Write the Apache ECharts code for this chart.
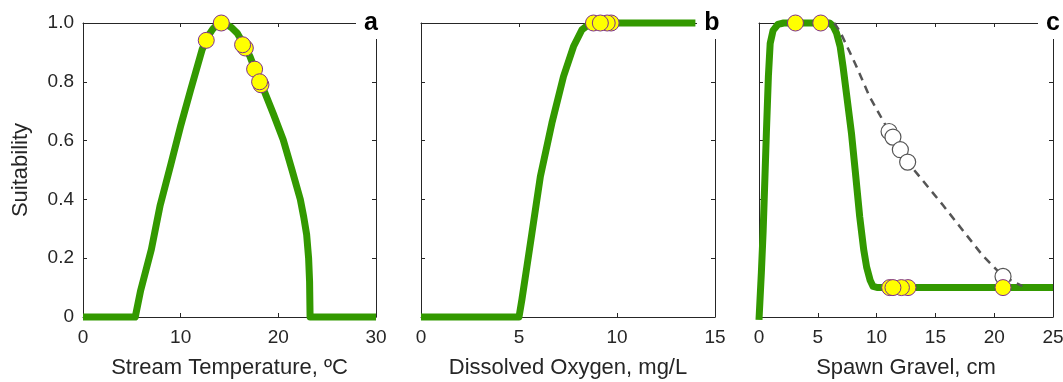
<!DOCTYPE html>
<html>
<head>
<meta charset="utf-8">
<script src="https://cdn.jsdelivr.net/npm/echarts@6/dist/echarts.min.js"></script>
<style>
    html, body { margin: 0; padding: 0; background: #fff; }
    #box1 { width: 1063px; height: 382px; }
</style>
</head>
<body>
<div id="box1"></div>
<script>
// curve points [x, suitability]
var tempCurve = [[0, 0], [5.35, 0], [5.9, 0.09], [7.0, 0.23], [7.9, 0.38], [9.0, 0.52], [10.0, 0.65],
    [11.0, 0.77], [12.2, 0.91], [12.8, 0.955], [13.3, 0.98], [13.7, 0.993], [14.2, 1.0], [14.7, 0.995],
    [15.2, 0.985], [15.8, 0.965], [16.5, 0.925], [17.1, 0.886], [17.8, 0.825], [18.5, 0.773], [19.5, 0.69],
    [20.5, 0.603], [21.4, 0.5], [22.25, 0.4], [22.6, 0.34], [22.9, 0.28], [23.1, 0.2], [23.2, 0.12],
    [23.25, 0], [30, 0]];
var tempPoints = [[12.62, 0.941], [14.16, 1.0], [16.62, 0.915], [16.34, 0.926], [18.22, 0.79], [17.57, 0.843], [18.08, 0.80]];

var oxyCurve = [[0, 0], [5.0, 0], [5.15, 0.06], [5.4, 0.17], [5.66, 0.286], [6.09, 0.478], [6.68, 0.66],
    [7.27, 0.818], [7.78, 0.92], [8.21, 0.977], [8.6, 0.997], [9.0, 1.0], [14, 1.0]];
var oxyPoints = [[8.8, 1.0], [9.7, 1.0], [9.5, 1.0], [9.15, 1.0]];

var gravelCurve = [[0, -0.01], [0.2, 0.15], [0.35, 0.29], [0.5, 0.47], [0.63, 0.63], [0.8, 0.82], [0.95, 0.93],
    [1.2, 0.975], [1.6, 0.995], [2.1, 1.0], [6.0, 1.0], [6.3, 0.99], [6.6, 0.965], [6.9, 0.92], [7.15, 0.85],
    [7.5, 0.74], [7.86, 0.626], [8.2, 0.49], [8.56, 0.342], [8.9, 0.23], [9.15, 0.17], [9.45, 0.125],
    [9.7, 0.104], [10.1, 0.1], [25, 0.1]];
var gravelOldCurve = [[6.4, 1.0], [6.9, 0.97], [8.2, 0.86], [9.4, 0.75], [11.06, 0.631], [11.39, 0.612],
    [12.02, 0.569], [12.64, 0.527], [15.65, 0.38], [19.0, 0.21], [20.75, 0.138], [22.4, 0.105]];
var gravelOldPoints = [[11.06, 0.631], [11.39, 0.612], [12.02, 0.569], [12.64, 0.527], [20.75, 0.138]];
var gravelPoints = [[3.1, 1.0], [5.25, 1.0], [12.67, 0.1], [12.11, 0.1], [11.11, 0.1], [11.39, 0.1], [20.75, 0.1]];

var panelNames = ['Stream Temperature, \u00BAC', 'Dissolved Oxygen, mg/L', 'Spawn Gravel, cm'];
var panelLetters = ['a', 'b', 'c'];
var xMax = [30, 15, 25];
var xStep = [10, 5, 5];

var FONT = '"Liberation Sans", Arial, Helvetica, sans-serif';
var AX = '#262626';
var GREEN = '#339900';
var lefts = [83, 421, 759];
var widths = [293, 294, 294];
var letterShift = [-5, -3, 0];
var TOP = 23, H = 294;

var chart = echarts.init(document.getElementById('box1'));

var grids = [], xAxes = [], yAxes = [], series = [], graphics = [];
for (var i = 0; i < 3; i++) {
    grids.push({
        left: lefts[i], top: TOP, width: widths[i], height: H,
        containLabel: false, outerBoundsMode: 'none'
    });
    var line = { show: true, onZero: false, lineStyle: { color: AX, width: 1 } };
    var tick = { show: true, inside: true, length: 4, lineStyle: { color: AX } };
    xAxes.push({
        gridIndex: i, type: 'value', position: 'bottom', min: 0, max: xMax[i], interval: xStep[i],
        axisLine: line, axisTick: tick, splitLine: { show: false },
        axisLabel: { color: AX, fontSize: 19, fontFamily: FONT, margin: 11 },
        name: panelNames[i], nameLocation: 'middle', nameGap: 40,
        nameTextStyle: { color: AX, fontSize: 22, fontFamily: FONT }
    });
    xAxes.push({
        gridIndex: i, type: 'value', position: 'top', min: 0, max: xMax[i], interval: xStep[i],
        axisLine: line, axisTick: tick, splitLine: { show: false }, axisLabel: { show: false }
    });
    yAxes.push({
        gridIndex: i, type: 'value', position: 'left', min: 0, max: 1, interval: 0.2,
        axisLine: line, axisTick: tick, splitLine: { show: false },
        axisLabel: {
            show: i === 0, color: AX, fontSize: 19, fontFamily: FONT, margin: 9,
            formatter: function (v) { return v === 0 ? '0' : v.toFixed(1); }
        },
        name: i === 0 ? 'Suitability' : '', nameLocation: 'middle', nameGap: 51, nameRotate: 90,
        nameTextStyle: { color: AX, fontSize: 22, fontFamily: FONT }
    });
    yAxes.push({
        gridIndex: i, type: 'value', position: 'right', min: 0, max: 1, interval: 0.2,
        axisLine: line, axisTick: tick, splitLine: { show: false }, axisLabel: { show: false }
    });

    // white patch behind the panel letter, covering the top-right corner
    var cx = lefts[i] + widths[i] + letterShift[i];
    graphics.push({
        type: 'rect', z: 100, silent: true,
        shape: { x: cx - 15, y: 4, width: 30, height: 35 },
        style: { fill: '#fff' }
    });
    graphics.push({
        type: 'text', z: 101, silent: true,
        x: cx, y: 23,
        style: {
            text: panelLetters[i], fill: '#000', font: 'bold 25px ' + FONT,
            textAlign: 'center', textVerticalAlign: 'middle'
        }
    });
}

function curve(idx, data) {
    return {
        type: 'line', xAxisIndex: idx * 2, yAxisIndex: idx * 2, data: data,
        showSymbol: false, clip: false, silent: true, z: 2,
        lineStyle: { color: GREEN, width: 7, cap: 'butt', join: 'round' }
    };
}
function dots(idx, data) {
    return {
        type: 'scatter', xAxisIndex: idx * 2, yAxisIndex: idx * 2, data: data,
        symbolSize: 16, clip: false, silent: true, z: 5,
        itemStyle: { color: '#ffff00', borderColor: '#7e2f8e', borderWidth: 1, opacity: 1 }
    };
}

series.push(curve(0, tempCurve));
series.push(dots(0, tempPoints));
series.push(curve(1, oxyCurve));
series.push(dots(1, oxyPoints));
series.push(curve(2, gravelCurve));
series.push({
    type: 'line', xAxisIndex: 4, yAxisIndex: 4, data: gravelOldCurve,
    showSymbol: false, clip: false, silent: true, z: 3,
    lineStyle: { color: '#555555', width: 2.5, type: [8, 6] }
});
series.push({
    type: 'scatter', xAxisIndex: 4, yAxisIndex: 4, data: gravelOldPoints,
    symbolSize: 16, clip: false, silent: true, z: 4,
    itemStyle: { color: '#fff', borderColor: '#555555', borderWidth: 1.2, opacity: 1 }
});
series.push(dots(2, gravelPoints));

var option = {
    animation: false,
    backgroundColor: '#fff',
    grid: grids,
    xAxis: xAxes,
    yAxis: yAxes,
    series: series,
    graphic: graphics
};
chart.setOption(option);
</script>
</body>
</html>
